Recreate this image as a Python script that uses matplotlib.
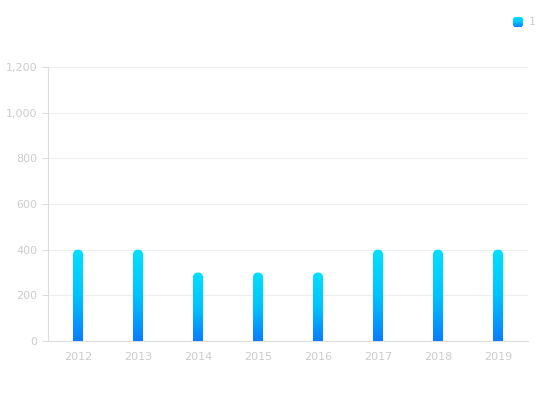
import numpy as np
import matplotlib.pyplot as plt
from matplotlib.patches import FancyBboxPatch
from matplotlib.colors import LinearSegmentedColormap

# data
years = ['2012', '2013', '2014', '2015', '2016', '2017', '2018', '2019']
values = [400, 400, 300, 300, 300, 400, 400, 400]
series_name = '1'

grad = LinearSegmentedColormap.from_list('bar_grad', ['#0a7cff', '#00c4ff', '#00e0ff'])
grad_img = np.linspace(0, 1, 256).reshape(-1, 1)

fig = plt.figure(figsize=(5.5, 4.2), dpi=100)
ax = fig.add_axes([48 / 550, 79 / 420, 480 / 550, 274 / 420])

x = np.arange(len(years))
ax.set_xlim(-0.5, len(years) - 0.5)
ax.set_ylim(0, 1200)

# aspect between data units so the round top is a half circle
px_x = ax.transData.transform([(1, 0)])[0][0] - ax.transData.transform([(0, 0)])[0][0]
px_y = ax.transData.transform([(0, 1)])[0][1] - ax.transData.transform([(0, 0)])[0][1]
aspect = px_x / px_y

bar_w = 10 / px_x
for xi, v in zip(x, values):
    box = FancyBboxPatch((xi - bar_w / 2, -50), bar_w, v + 50,
                         boxstyle='round,pad=0,rounding_size=%f' % (bar_w / 2),
                         mutation_aspect=aspect, facecolor='none', edgecolor='none',
                         transform=ax.transData)
    ax.add_patch(box)
    im = ax.imshow(grad_img, cmap=grad, origin='lower', aspect='auto',
                   extent=(xi - bar_w / 2, xi + bar_w / 2, 0, v), zorder=3)
    im.set_clip_path(box)

ax.set_xlim(-0.5, len(years) - 0.5)
ax.set_ylim(0, 1200)
ax.set_xticks(x)
ax.set_xticklabels(years)
ax.set_yticks(range(0, 1201, 200))
ax.set_yticklabels(['{:,}'.format(t) for t in range(0, 1201, 200)])

ax.grid(axis='y', color='#eeeeee', linewidth=0.8)
ax.set_axisbelow(True)
for s in ['top', 'right']:
    ax.spines[s].set_visible(False)
for s in ['left', 'bottom']:
    ax.spines[s].set_color('#dddddd')
    ax.spines[s].set_linewidth(0.8)
ax.tick_params(axis='y', colors='#dddddd', labelcolor='#cccccc', labelsize=8, length=4, width=0.8)
ax.tick_params(axis='x', length=0, labelcolor='#cccccc', labelsize=8, pad=8)

# legend marker
lax = fig.add_axes([513 / 550, 393 / 420, 10 / 550, 10 / 420])
lax.set_xlim(0, 1)
lax.set_ylim(0, 1)
lax.axis('off')
lbox = FancyBboxPatch((0, 0), 1, 1, boxstyle='round,pad=0,rounding_size=0.25',
                      facecolor='none', edgecolor='none', transform=lax.transData)
lax.add_patch(lbox)
lim = lax.imshow(grad_img, cmap=grad, origin='lower', aspect='auto', extent=(0, 1, 0, 1))
lim.set_clip_path(lbox)
fig.text(529 / 550, 398 / 420, series_name, color='#cccccc', fontsize=8, va='center', ha='left')

fig.savefig('out.png', dpi=100)
